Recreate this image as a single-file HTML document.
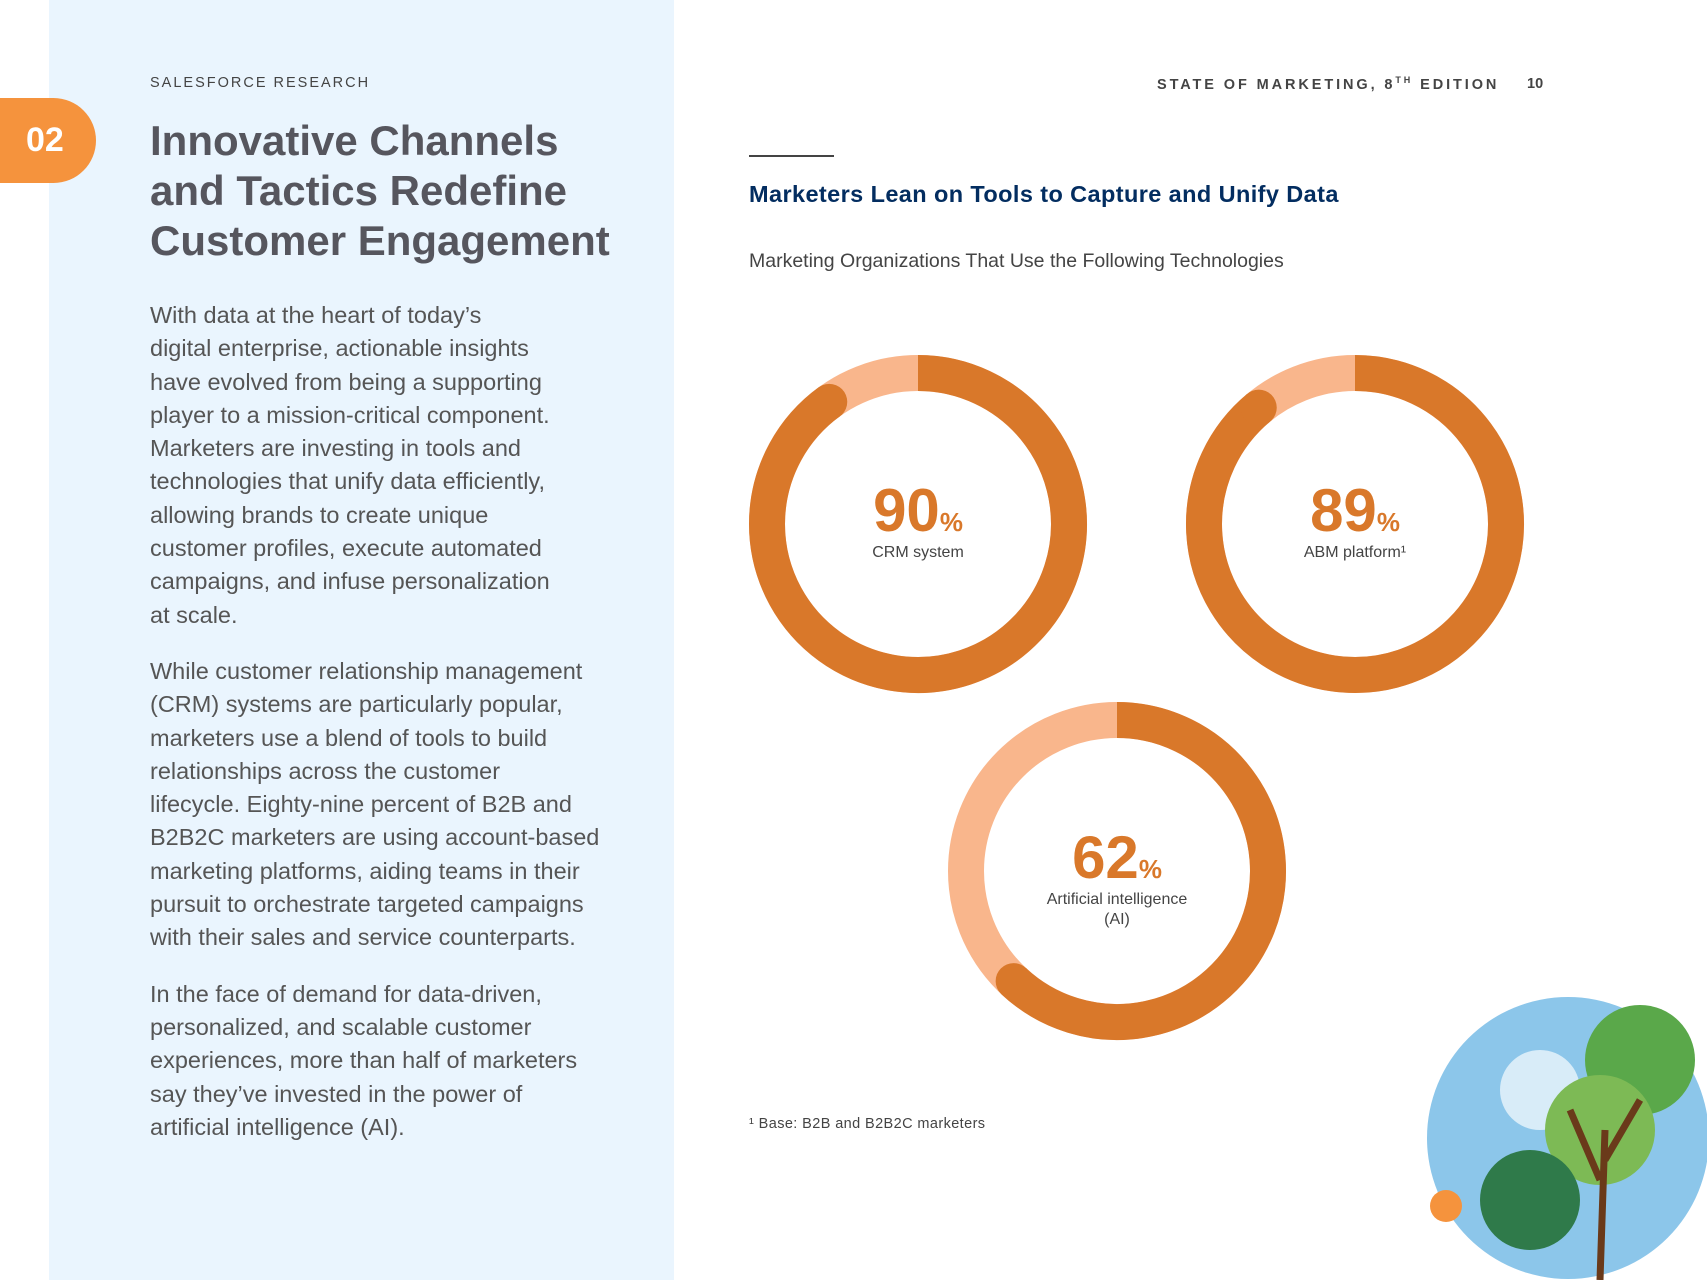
<!DOCTYPE html>
<html><head><meta charset="utf-8"><style>
body{margin:0;width:1707px;height:1280px;position:relative;background:#fff;font-family:"Liberation Sans",sans-serif;overflow:hidden}
.abs{position:absolute}
</style></head><body>
<div class="abs" style="left:49px;top:0;width:625px;height:1280px;background:#eaf5fe"></div>
<div class="abs" style="left:0;top:98px;width:96px;height:85px;background:#f5933d;border-radius:0 43px 43px 0;color:#fff;font-size:34px;font-weight:bold;line-height:85px;text-indent:26px">02</div>
<div class="abs" style="left:150px;top:75px;font-size:14.5px;letter-spacing:2px;color:#444">SALESFORCE RESEARCH</div>
<div class="abs" style="left:150px;top:116px;font-size:42px;line-height:50px;font-weight:bold;color:#56565e">Innovative Channels<br>and Tactics Redefine<br>Customer Engagement</div>
<div class="abs" style="left:150px;top:299px;font-size:23.5px;line-height:33.3px;color:#555;width:520px">
<p style="margin:0 0 23px">With data at the heart of today’s<br>digital enterprise, actionable insights<br>have evolved from being a supporting<br>player to a mission-critical component.<br>Marketers are investing in tools and<br>technologies that unify data efficiently,<br>allowing brands to create unique<br>customer profiles, execute automated<br>campaigns, and infuse personalization<br>at scale.</p>
<p style="margin:0 0 23px">While customer relationship management<br>(CRM) systems are particularly popular,<br>marketers use a blend of tools to build<br>relationships across the customer<br>lifecycle. Eighty-nine percent of B2B and<br>B2B2C marketers are using account-based<br>marketing platforms, aiding teams in their<br>pursuit to orchestrate targeted campaigns<br>with their sales and service counterparts.</p>
<p style="margin:0">In the face of demand for data-driven,<br>personalized, and scalable customer<br>experiences, more than half of marketers<br>say they’ve invested in the power of<br>artificial intelligence (AI).</p></div>
<div class="abs" style="left:1157px;top:75px;font-size:14.5px;letter-spacing:2.9px;color:#444;font-weight:bold">STATE OF MARKETING, 8<sup style="font-size:9px">TH</sup> EDITION</div>
<div class="abs" style="left:1527px;top:76px;font-size:14.5px;color:#444;font-weight:bold">10</div>
<div class="abs" style="left:749px;top:155px;width:85px;height:2px;background:#444"></div>
<div class="abs" style="left:749px;top:181px;font-size:23.5px;letter-spacing:0.4px;font-weight:bold;color:#032d60">Marketers Lean on Tools to Capture and Unify Data</div>
<div class="abs" style="left:749px;top:250px;font-size:19.5px;color:#444">Marketing Organizations That Use the Following Technologies</div>
<svg class="abs" style="left:0;top:0" width="1707" height="1280" id="chart"></svg>
<div class="abs" style="left:749px;top:1116px;font-size:14.5px;letter-spacing:0.4px;color:#444">¹ Base: B2B and B2B2C marketers</div>
<svg class="abs" style="left:0;top:0" width="1707" height="1280">
<circle cx="1568" cy="1138" r="141" fill="#8cc6ea"/>
<circle cx="1540" cy="1090" r="40" fill="#d8ecf8"/>
<circle cx="1640" cy="1060" r="55" fill="#5aa84a"/>
<circle cx="1600" cy="1130" r="55" fill="#7dba55"/>
<circle cx="1530" cy="1200" r="50" fill="#2f7a4a"/>
<path d="M1600 1280 L1605 1130 M1600 1180 L1570 1110 M1605 1160 L1640 1100" stroke="#6a3a1a" stroke-width="7" fill="none"/>
<circle cx="1446" cy="1206" r="16" fill="#f5933d"/>
</svg>
<script>
const labels=["CRM system","ABM platform¹","Artificial intelligence|(AI)"];
const values=[90,89,62];
const centersX=[918,1355,1117];
const centersY=[524,524,871];
const ns="http://www.w3.org/2000/svg";
const svg=document.getElementById('chart');
const R=151,W=36;
function pt(cx,cy,a){return [cx+R*Math.sin(a),cy-R*Math.cos(a)];}
values.forEach((v,i)=>{
 const cx=centersX[i],cy=centersY[i];
 const bg=document.createElementNS(ns,'circle');
 bg.setAttribute('cx',cx);bg.setAttribute('cy',cy);bg.setAttribute('r',R);
 bg.setAttribute('fill','none');bg.setAttribute('stroke','#f9b68c');bg.setAttribute('stroke-width',W);
 
 
 svg.appendChild(bg);
 const a=v/100*2*Math.PI;const [x,y]=pt(cx,cy,a);
 const p=document.createElementNS(ns,'path');
 p.setAttribute('d',`M${cx} ${cy-R} A${R} ${R} 0 ${v>50?1:0} 1 ${x} ${y}`);
 p.setAttribute('fill','none');p.setAttribute('stroke','#d9782a');p.setAttribute('stroke-width',W);
 
 
 svg.appendChild(p);
 const c=document.createElementNS(ns,'circle');
 c.setAttribute('cx',x);c.setAttribute('cy',y);c.setAttribute('r',W/2);c.setAttribute('fill','#d9782a');
 
 
 svg.appendChild(c);
 const t=document.createElementNS(ns,'text');
 t.setAttribute('x',cx);t.setAttribute('y',cy+7);t.setAttribute('text-anchor','middle');
 t.setAttribute('fill','#d9782a');t.setAttribute('font-weight','bold');t.setAttribute('font-size','60');
 t.setAttribute('font-family','Liberation Sans, sans-serif');
 t.innerHTML=v+'<tspan font-size="26">%</tspan>';
 
 
 svg.appendChild(t);
 labels[i].split('|').forEach((ln,j)=>{
  const l=document.createElementNS(ns,'text');
  l.setAttribute('x',cx);l.setAttribute('y',cy+33+j*20);l.setAttribute('text-anchor','middle');
  l.setAttribute('fill','#444');l.setAttribute('font-size','16');l.setAttribute('font-family','Liberation Sans, sans-serif');
  l.textContent=ln;
  
  
  svg.appendChild(l);
 });
});
</script>
</body></html>
